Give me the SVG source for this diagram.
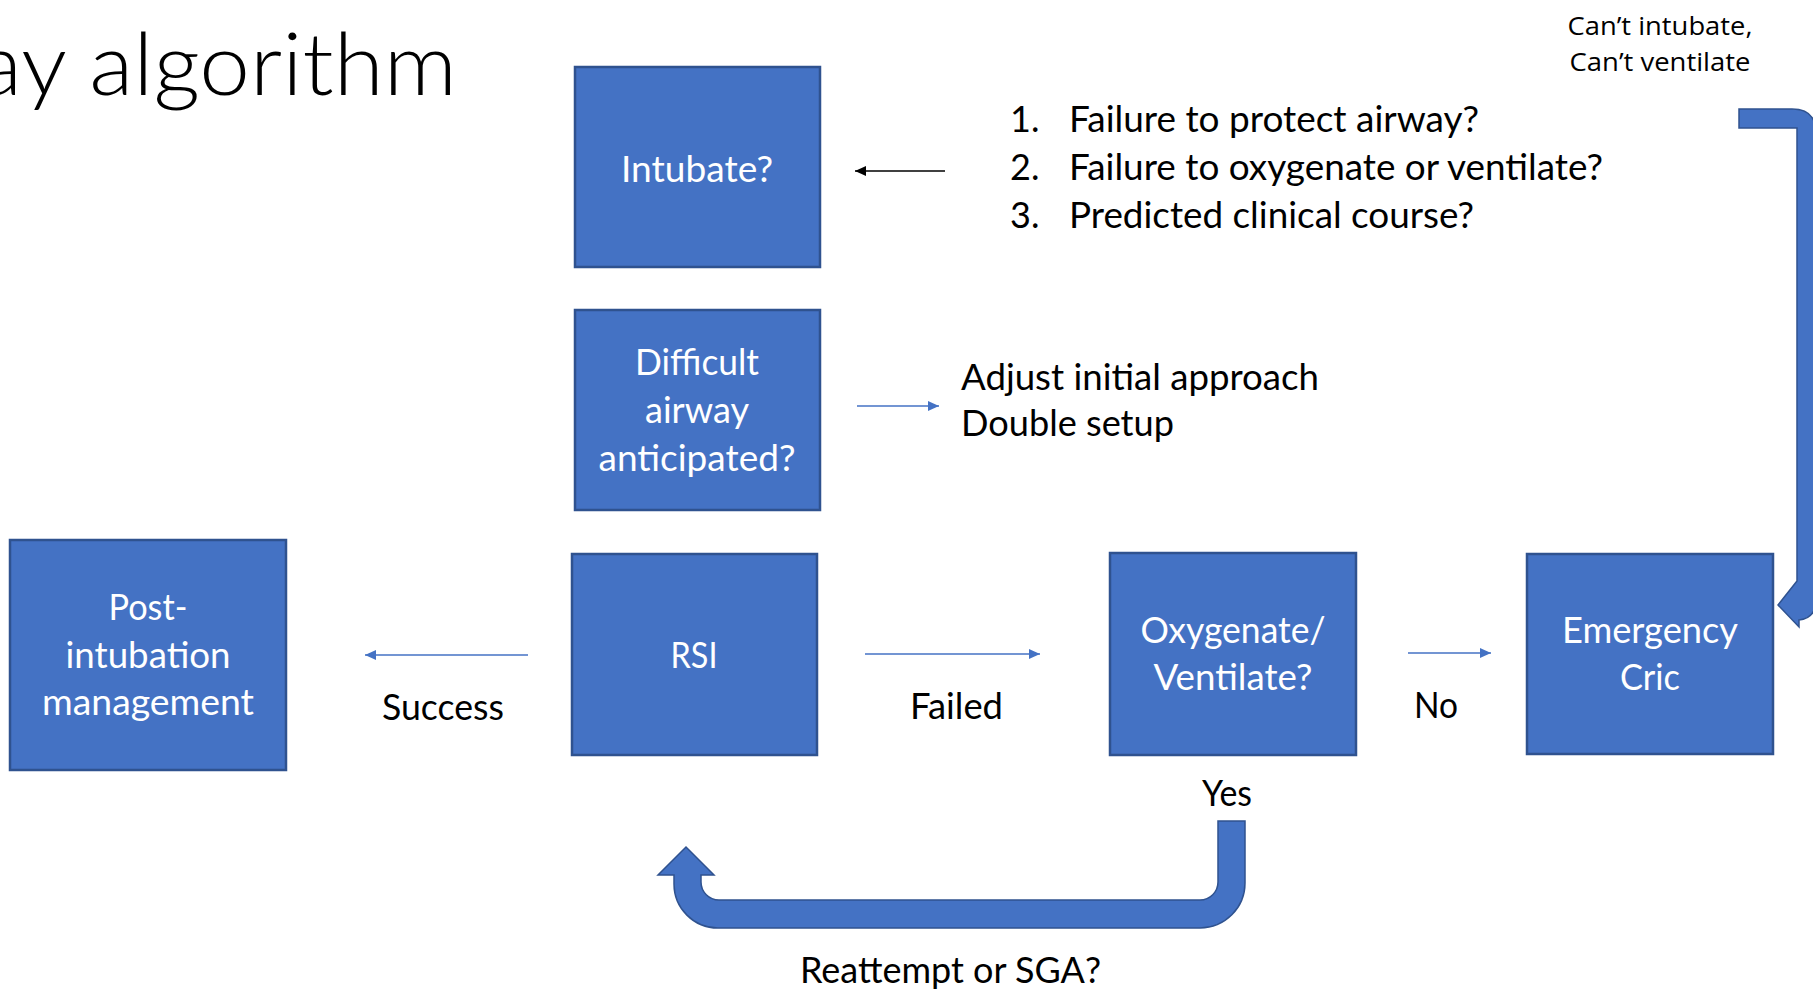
<svg xmlns="http://www.w3.org/2000/svg" width="1813" height="991" viewBox="0 0 1813 991">
  <style>
    .box { fill: #4472C4; stroke: #2F528F; stroke-width: 2.5; }
    .bt { font-family: Lato, "Open Sans", sans-serif; font-size: 36px; fill: #FFFFFF; text-anchor: middle; }
    .lbl { font-family: Lato, "Open Sans", sans-serif; font-size: 36px; fill: #000000; }
    .mid { text-anchor: middle; }
    .note { font-family: "Open Sans", "Noto Sans", sans-serif; font-size: 26px; fill: #000000; text-anchor: middle; }
    .title { font-family: Lato, "Open Sans", sans-serif; font-weight: 300; font-size: 86px; fill: #000000; }
    .conn { fill: none; stroke: #4472C4; stroke-width: 1.6; }
    .conn-dark { fill: none; stroke: #000000; stroke-width: 1.6; }
    .bigarrow { fill: #4472C4; stroke: #2F528F; stroke-width: 1.5; }
  </style>
  <defs>
    <marker id="headBlue" markerUnits="userSpaceOnUse" markerWidth="12" markerHeight="10" refX="11" refY="5" orient="auto">
      <path d="M0,0 L11,5 L0,10 Z" fill="#4472C4"/>
    </marker>
    <marker id="headBlack" markerUnits="userSpaceOnUse" markerWidth="12" markerHeight="10" refX="11" refY="5" orient="auto">
      <path d="M0,0 L11,5 L0,10 Z" fill="#000000"/>
    </marker>
  </defs>

  <rect width="1813" height="991" fill="#FFFFFF"/>

  <!-- slide title (left part runs off the canvas) -->
  <text class="title" x="-22" y="95" textLength="479" lengthAdjust="spacingAndGlyphs">ay algorithm</text>

  <!-- connectors -->
  <g id="connectors">
    <line class="conn-dark" x1="945" y1="171" x2="855" y2="171" marker-end="url(#headBlack)"/>
    <line class="conn" x1="857" y1="406" x2="939" y2="406" marker-end="url(#headBlue)"/>
    <line class="conn" x1="528" y1="655" x2="365" y2="655" marker-end="url(#headBlue)"/>
    <line class="conn" x1="865" y1="654" x2="1040" y2="654" marker-end="url(#headBlue)"/>
    <line class="conn" x1="1408" y1="653" x2="1491" y2="653" marker-end="url(#headBlue)"/>
    <!-- CICV bent arrow down to Emergency Cric -->
    <path class="bigarrow" d="M1739,109 L1792,109 Q1816,109 1816,133 L1816,600 Q1816,618 1799,620 L1799,627 L1778,605 L1797,581 L1797,128 L1739,128 Z"/>
    <!-- U-turn arrow from Oxygenate back to RSI -->
    <path class="bigarrow" d="M1218,821 L1245,821 L1245,883 A45,45 0 0 1 1200,928 L718,928 A44,44 0 0 1 674,884 L674,875 L658,875 L686,847 L714,875 L701,875 L701,882 A18,18 0 0 0 719,900 L1200,900 A18,18 0 0 0 1218,882 Z"/>
  </g>

  <g id="intubate">
    <rect class="box" x="575" y="67" width="245" height="200"/>
    <text class="bt" x="697" y="182" textLength="152" lengthAdjust="spacingAndGlyphs">Intubate?</text>
  </g>

  <g id="difficult-airway">
    <rect class="box" x="575" y="310" width="245" height="200"/>
    <text class="bt" x="697" y="375" textLength="124" lengthAdjust="spacingAndGlyphs">Difficult</text>
    <text class="bt" x="697" y="423" textLength="104" lengthAdjust="spacingAndGlyphs">airway</text>
    <text class="bt" x="697" y="471" textLength="197" lengthAdjust="spacingAndGlyphs">anticipated?</text>
  </g>

  <g id="rsi">
    <rect class="box" x="572" y="554" width="245" height="201"/>
    <text class="bt" x="694" y="668" textLength="47" lengthAdjust="spacingAndGlyphs">RSI</text>
  </g>

  <g id="post-intubation">
    <rect class="box" x="10" y="540" width="276" height="230"/>
    <text class="bt" x="148" y="620" textLength="79" lengthAdjust="spacingAndGlyphs">Post-</text>
    <text class="bt" x="148" y="668" textLength="165" lengthAdjust="spacingAndGlyphs">intubation</text>
    <text class="bt" x="148" y="715" textLength="212" lengthAdjust="spacingAndGlyphs">management</text>
  </g>

  <g id="oxygenate">
    <rect class="box" x="1110" y="553" width="246" height="202"/>
    <text class="bt" x="1233" y="643" textLength="185" lengthAdjust="spacingAndGlyphs">Oxygenate/</text>
    <text class="bt" x="1233" y="690" textLength="159" lengthAdjust="spacingAndGlyphs">Ventilate?</text>
  </g>

  <g id="emergency-cric">
    <rect class="box" x="1527" y="554" width="246" height="200"/>
    <text class="bt" x="1650" y="643" textLength="176" lengthAdjust="spacingAndGlyphs">Emergency</text>
    <text class="bt" x="1650" y="690" textLength="60" lengthAdjust="spacingAndGlyphs">Cric</text>
  </g>

  <g id="indications">
    <text class="lbl" x="1010" y="132">1.</text>
    <text class="lbl" x="1069" y="132" textLength="410" lengthAdjust="spacingAndGlyphs">Failure to protect airway?</text>
    <text class="lbl" x="1010" y="180">2.</text>
    <text class="lbl" x="1069" y="180" textLength="534" lengthAdjust="spacingAndGlyphs">Failure to oxygenate or ventilate?</text>
    <text class="lbl" x="1010" y="228">3.</text>
    <text class="lbl" x="1069" y="228" textLength="405" lengthAdjust="spacingAndGlyphs">Predicted clinical course?</text>
  </g>

  <g id="difficult-actions">
    <text class="lbl" x="961" y="390" textLength="358" lengthAdjust="spacingAndGlyphs">Adjust initial approach</text>
    <text class="lbl" x="961" y="436" textLength="213" lengthAdjust="spacingAndGlyphs">Double setup</text>
  </g>

  <g id="edge-labels">
    <text class="lbl" x="382" y="720" textLength="122" lengthAdjust="spacingAndGlyphs">Success</text>
    <text class="lbl" x="910" y="719" textLength="93" lengthAdjust="spacingAndGlyphs">Failed</text>
    <text class="lbl" x="1414" y="718" textLength="44" lengthAdjust="spacingAndGlyphs">No</text>
    <text class="lbl" x="1202" y="806" textLength="50" lengthAdjust="spacingAndGlyphs">Yes</text>
    <text class="lbl" x="800" y="983" textLength="301" lengthAdjust="spacingAndGlyphs">Reattempt or SGA?</text>
    <text class="note" x="1660" y="35" textLength="185" lengthAdjust="spacingAndGlyphs">Can’t intubate,</text>
    <text class="note" x="1660" y="71" textLength="181" lengthAdjust="spacingAndGlyphs">Can’t ventilate</text>
  </g>
</svg>
